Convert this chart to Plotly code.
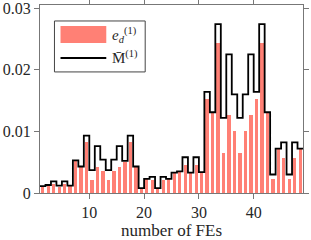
import numpy as np
import plotly.graph_objects as go

# number of FEs (bins)
fe_index = list(range(1, 49))

# e_d^(1) values (bars)
e_d = [0.0010, 0.0012, 0.0015, 0.0009, 0.0015, 0.0011, 0.0052, 0.0042,
       0.0083, 0.0021, 0.0042, 0.0035, 0.0021, 0.0035, 0.0042, 0.0050,
       0.0083, 0.0042, 0.0007, 0.0022, 0.0021, 0.0007, 0.0021, 0.0022,
       0.0033, 0.0035, 0.0045, 0.0032, 0.0046, 0.0034, 0.0153, 0.0131,
       0.0244, 0.0065, 0.0126, 0.0100, 0.0065, 0.0100, 0.0126, 0.0153,
       0.0244, 0.0131, 0.0022, 0.0071, 0.0057, 0.0022, 0.0057, 0.0071]

# M-bar^(1) values (stairs)
m_bar = [0.0011, 0.0013, 0.0019, 0.0012, 0.0019, 0.0012, 0.0053, 0.0043,
         0.0093, 0.0037, 0.0076, 0.0054, 0.0037, 0.0054, 0.0076, 0.0052,
         0.0093, 0.0043, 0.0008, 0.0023, 0.0026, 0.0008, 0.0026, 0.0023,
         0.0033, 0.0035, 0.0058, 0.0033, 0.0058, 0.0034, 0.0164, 0.0131,
         0.0274, 0.0122, 0.0225, 0.0160, 0.0122, 0.0160, 0.0225, 0.0164,
         0.0274, 0.0131, 0.0030, 0.0072, 0.0082, 0.0030, 0.0082, 0.0072]

x_ticks = [10, 20, 30, 40]
y_ticks = [0, 0.01, 0.02, 0.03]
y_tick_labels = ["0", "0.01", "0.02", "0.03"]

BAR_COLOR = "#FF8075"
AXIS_COLOR = "#777777"
TEXT_COLOR = "#262626"
FONT = "Liberation Serif, Times New Roman, serif"

idx = np.array(fe_index, dtype=float)
bar_x = idx + 0.5
stair_x = np.append(idx, idx[-1] + 1)
stair_y = np.append(np.array(m_bar), m_bar[-1])

fig = go.Figure()
fig.add_trace(go.Bar(x=bar_x, y=e_d, width=0.6, marker=dict(color=BAR_COLOR, line=dict(width=0)),
                     name="e_d^(1)", showlegend=False))
fig.add_trace(go.Scatter(x=stair_x, y=stair_y, mode="lines", line=dict(color="black", width=1.8, shape="hv"),
                         name="M^(1)", showlegend=False))

axis_common = dict(showline=True, linecolor=AXIS_COLOR, linewidth=1, mirror="ticks",
                   ticks="outside", ticklen=5, tickcolor=AXIS_COLOR, tickwidth=1,
                   showgrid=False, zeroline=False, automargin=False, ticklabeloverflow="allow",
                   tickfont=dict(family=FONT, size=16, color=TEXT_COLOR))

fig.update_xaxes(range=[1, 49], tickvals=x_ticks,
                 title=dict(text="number of FEs", font=dict(family=FONT, size=17, color=TEXT_COLOR), standoff=4),
                 **axis_common)
fig.update_yaxes(range=[0, 0.0305], tickvals=y_ticks, ticktext=y_tick_labels, **axis_common)

# custom legend (paper coordinates)
shapes = [
    dict(type="rect", xref="paper", yref="paper", x0=0.055, x1=0.40, y0=0.644, y1=0.915,
         fillcolor="white", line=dict(color="#444444", width=1), layer="above"),
    dict(type="rect", xref="paper", yref="paper", x0=0.078, x1=0.252, y0=0.798, y1=0.888,
         fillcolor=BAR_COLOR, line=dict(width=0), layer="above"),
    dict(type="line", xref="paper", yref="paper", x0=0.078, x1=0.252, y0=0.718, y1=0.718,
         line=dict(color="black", width=1.8), layer="above"),
]
annotations = [
    dict(xref="paper", yref="paper", x=0.265, y=0.843, xanchor="left", yanchor="middle", showarrow=False,
         text="<i>e</i><sub><i>d</i></sub><sup>(1)</sup>", font=dict(family=FONT, size=15, color=TEXT_COLOR)),
    dict(xref="paper", yref="paper", x=0.265, y=0.725, xanchor="left", yanchor="middle", showarrow=False,
         text="M\u0304<sup>(1)</sup>", font=dict(family=FONT, size=15, color=TEXT_COLOR)),
]

fig.update_layout(
    width=311, height=240,
    margin=dict(l=40, r=8, t=5, b=47),
    plot_bgcolor="white", paper_bgcolor="white",
    bargap=0, shapes=shapes, annotations=annotations,
    font=dict(family=FONT, color=TEXT_COLOR),
)

fig.write_html("out.html", config={"displayModeBar": False},
               post_script="document.body.style.margin='0';document.body.style.overflow='hidden';")
